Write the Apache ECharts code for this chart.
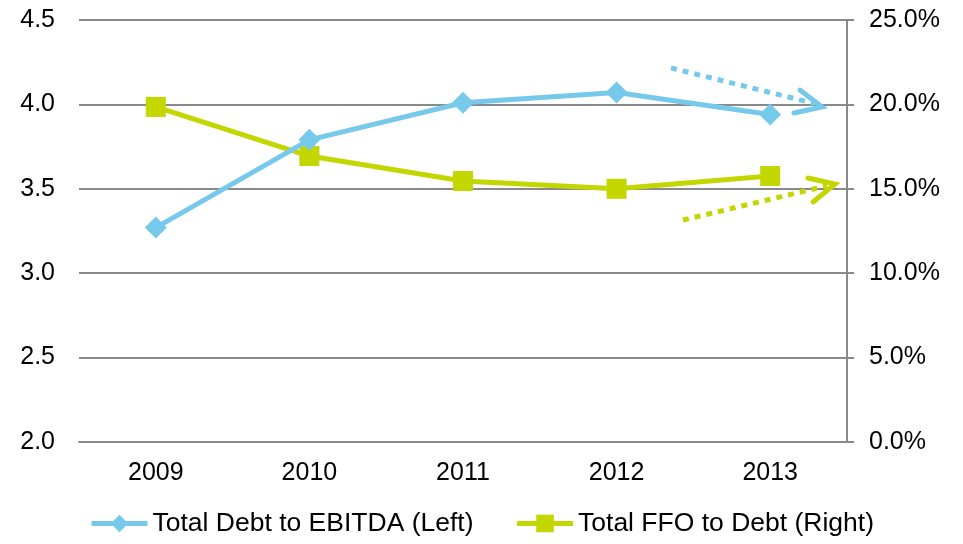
<!DOCTYPE html>
<html>
<head>
<meta charset="utf-8">
<title>Debt ratios</title>
<script src="https://cdn.jsdelivr.net/npm/echarts@6/dist/echarts.min.js"></script>
<style>
  html, body { margin: 0; padding: 0; background: #fff; }
  #main { width: 963px; height: 544px; }
</style>
</head>
<body>
<div id="main"></div>
<script>
// chart data
var years = ['2009', '2010', '2011', '2012', '2013'];
var debtToEbitda = [3.27, 3.79, 4.01, 4.07, 3.94];      // left axis (x)
var ffoToDebt = [19.85, 16.94, 15.46, 15.0, 15.76];     // right axis (%)

// trend arrows, in [category position, left axis value]
var blueArrowLine = [[3.354, 4.216], [4.29, 4.005]];
var blueArrowHead = [[4.194, 4.085], [4.337, 3.985], [4.155, 3.949]];
var greenArrowLine = [[3.432, 3.315], [4.37, 3.518]];
var greenArrowHead = [[4.246, 3.564], [4.422, 3.528], [4.279, 3.422]];

var blue = '#77C9EC';
var green = '#C4D600';
var gray = '#898989';
var font = "'Liberation Sans', Arial, sans-serif";

var chart = echarts.init(document.getElementById('main'));

function arrowSeries(data, color, dotted) {
    return {
        type: 'line',
        xAxisIndex: 1,
        yAxisIndex: 0,
        data: data,
        symbol: 'none',
        silent: true,
        z: 1,
        lineStyle: {
            color: color,
            width: 5,
            type: dotted ? [6, 6] : 'solid',
            cap: dotted ? 'butt' : 'round',
            join: 'miter'
        }
    };
}

var option = {
    animation: false,
    textStyle: { fontFamily: font },
    grid: { left: 79, right: 116, top: 20, bottom: 102, containLabel: false },
    legend: {
        data: ['Total Debt to EBITDA (Left)', 'Total FFO to Debt (Right)'],
        bottom: 2,
        left: 'center',
        itemWidth: 56,
        itemHeight: 22,
        itemGap: 41,
        lineStyle: { width: 5 },
        textStyle: { fontSize: 26.5, color: '#000', fontFamily: font }
    },
    xAxis: [{
        type: 'category',
        data: years,
        boundaryGap: true,
        axisLine: { show: true, lineStyle: { color: gray, width: 2 } },
        axisTick: { show: false },
        axisLabel: { fontSize: 25, color: '#000', margin: 19, fontFamily: font }
    }, {
        type: 'value',
        min: -0.5,
        max: 4.5,
        show: false
    }],
    yAxis: [{
        type: 'value',
        min: 2,
        max: 4.5,
        interval: 0.5,
        position: 'left',
        axisLine: { show: false },
        axisTick: { show: false },
        splitLine: { lineStyle: { color: gray, width: 2 } },
        axisLabel: {
            fontSize: 25, color: '#000', margin: 24, fontFamily: font,
            formatter: function (v) { return v.toFixed(1); }
        }
    }, {
        type: 'value',
        min: 0,
        max: 25,
        interval: 5,
        position: 'right',
        axisLine: { show: true, lineStyle: { color: gray, width: 2 } },
        axisTick: { show: true, inside: false, length: 7, lineStyle: { color: gray, width: 2 } },
        splitLine: { show: false },
        axisLabel: {
            fontSize: 25, color: '#000', margin: 22, fontFamily: font,
            formatter: function (v) { return v.toFixed(1) + '%'; }
        }
    }],
    series: [{
        name: 'Total Debt to EBITDA (Left)',
        type: 'line',
        yAxisIndex: 0,
        data: debtToEbitda,
        symbol: 'diamond',
        symbolSize: 22,
        z: 3,
        itemStyle: { color: blue },
        lineStyle: { color: blue, width: 5 }
    }, {
        name: 'Total FFO to Debt (Right)',
        type: 'line',
        yAxisIndex: 1,
        data: ffoToDebt,
        symbol: 'rect',
        symbolSize: 20,
        z: 2,
        itemStyle: { color: green },
        lineStyle: { color: green, width: 5 }
    },
    arrowSeries(blueArrowLine, blue, true),
    arrowSeries(blueArrowHead, blue, false),
    arrowSeries(greenArrowLine, green, true),
    arrowSeries(greenArrowHead, green, false)
    ]
};

chart.setOption(option);
</script>
</body>
</html>
